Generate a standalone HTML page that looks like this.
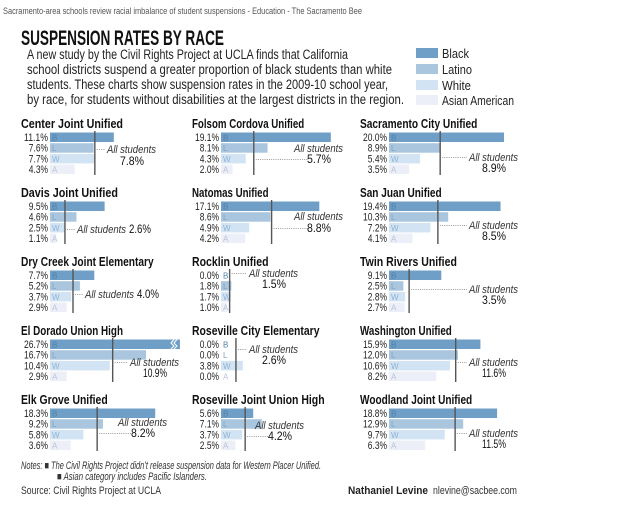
<!DOCTYPE html>
<html><head><meta charset="utf-8"><style>
html,body{margin:0;padding:0;background:#fff;width:640px;height:510px;overflow:hidden}
svg{display:block;font-family:"Liberation Sans Narrow","Liberation Sans",sans-serif}
</style></head><body>
<svg id="chart" width="640" height="510" viewBox="0 0 640 510" xmlns="http://www.w3.org/2000/svg">
<text x="3" y="14" font-size="9" fill="#555" textLength="359" lengthAdjust="spacingAndGlyphs">Sacramento-area schools review racial imbalance of student suspensions - Education - The Sacramento Bee</text>
<text x="21" y="45" font-size="21" font-weight="bold" fill="#111" textLength="203" lengthAdjust="spacingAndGlyphs">SUSPENSION RATES BY RACE</text>
<g font-size="13.5" fill="#222">
<text x="27" y="59" textLength="321" lengthAdjust="spacingAndGlyphs">A new study by the Civil Rights Project at UCLA finds that California</text>
<text x="27" y="74" textLength="365" lengthAdjust="spacingAndGlyphs">school districts suspend a greater proportion of black students than white</text>
<text x="27" y="89" textLength="361" lengthAdjust="spacingAndGlyphs">students. These charts show suspension rates in the 2009-10 school year,</text>
<text x="27" y="104" textLength="377" lengthAdjust="spacingAndGlyphs">by race, for students without disabilities at the largest districts in the region.</text>
</g>
<g font-size="13" fill="#222">
<rect x="416" y="48" width="22" height="10" fill="#6f9fc6"/><text x="442" y="58" textLength="27" lengthAdjust="spacingAndGlyphs">Black</text>
<rect x="416" y="64" width="22" height="10" fill="#a9c6de"/><text x="442" y="74" textLength="30" lengthAdjust="spacingAndGlyphs">Latino</text>
<rect x="416" y="80" width="22" height="10" fill="#d2e4f3"/><text x="442" y="90" textLength="29" lengthAdjust="spacingAndGlyphs">White</text>
<rect x="416" y="95" width="22" height="10" fill="#eceff8"/><text x="442" y="105" textLength="72" lengthAdjust="spacingAndGlyphs">Asian American</text>
</g>
<g id="panels"></g>
<g font-size="11" fill="#333" font-style="italic">
<text x="21" y="469" textLength="300" lengthAdjust="spacingAndGlyphs">Notes: ■ The Civil Rights Project didn’t release suspension data for Western Placer Unified.</text>
<text x="57" y="480" textLength="150" lengthAdjust="spacingAndGlyphs">■ Asian category includes Pacific Islanders.</text>
</g>
<text x="21" y="494" font-size="11" fill="#333" textLength="140" lengthAdjust="spacingAndGlyphs">Source: Civil Rights Project at UCLA</text>
<text x="348" y="494" font-size="11" fill="#222" font-weight="bold" textLength="80" lengthAdjust="spacingAndGlyphs">Nathaniel Levine</text>
<text x="433" y="494" font-size="11" fill="#333" textLength="84" lengthAdjust="spacingAndGlyphs">nlevine@sacbee.com</text>
</svg>
<script>
const districts = ["Center Joint Unified","Davis Joint Unified","Dry Creek Joint Elementary","El Dorado Union High","Elk Grove Unified",
"Folsom Cordova Unified","Natomas Unified","Rocklin Unified","Roseville City Elementary","Roseville Joint Union High",
"Sacramento City Unified","San Juan Unified","Twin Rivers Unified","Washington Unified","Woodland Joint Unified"];
const black =  [11.1,9.5,7.7,26.7,18.3, 19.1,17.1,0.0,0.0,5.6, 20.0,19.4,9.1,15.9,18.8];
const latino = [7.6,4.6,5.2,16.7,9.2, 8.1,8.6,1.8,0.0,7.1, 8.9,10.3,2.5,12.0,12.9];
const white =  [7.7,2.5,3.7,10.4,5.8, 4.3,4.9,1.7,3.8,3.7, 5.4,7.2,2.8,10.6,9.7];
const asian =  [4.3,1.1,2.9,2.9,3.6, 2.0,4.2,1.0,0.0,2.5, 3.5,4.1,2.7,8.2,6.3];
const allStudents = [7.8,2.6,4.0,10.9,8.2, 5.7,8.8,1.5,2.6,4.2, 8.9,8.5,3.5,11.6,11.5];
const raceLetters = ["B","L","W","A"];
// layout (not data)
const colStart=[50,221,389], titleY=[123,192,261,330,399];
const PX=5.75, CAP=22.6;
const fills=["#6f9fc6","#a9c6de","#d2e4f3","#eceff8"], letterFill=["#4d7fa8","#7fa3c2","#8fb3d4","#b9c2d8"];
// label configs: [dx from colStart, labelDy, valueDy, inline, dottedOnValue]
const lab=[[57,30,42,0,0],[27,41,41,1,0],[35,37,37,1,0],[80,36,47,0,0],[68,27,38,0,1],
[73,29,40,0,1],[73,28,40,0,1],[28,16,27,0,0],[28,23,34,0,0],[34,30,41,0,1],
[80,38,49,0,0],[80,37,48,0,0],[80,32,43,0,0],[80,36,47,0,0],[80,38,49,0,0]];
const NS="http://www.w3.org/2000/svg";
const root=document.getElementById("panels");
function mk(tag,attrs,parent,txt){const e=document.createElementNS(NS,tag);for(const k in attrs)e.setAttribute(k,attrs[k]);if(txt!=null)e.textContent=txt;parent.appendChild(e);return e;}
const xs=v=>Math.min(v,CAP)*PX;
for(let i=0;i<districts.length;i++){
  const c=Math.floor(i/5), r=i%5, cs=colStart[c], T=titleY[r];
  const g=mk("g",{},root);
  
  
  const t=mk("text",{x:cs-29,y:T+5,"font-size":12.5,"font-weight":"bold",fill:"#111",textLength:districts[i].length*5.1,lengthAdjust:"spacingAndGlyphs"},g,districts[i]);
  
  
  const vals=[black[i],latino[i],white[i],asian[i]];
  vals.forEach((v,k)=>{
    const top=T+9.5+k*10.7;
    const b=mk("rect",{x:cs,y:top,width:Math.max(xs(v),0.01),height:9.5,fill:fills[k]},g);
    
    
    const s=v.toFixed(1)+"%";
    const vl=mk("text",{x:cs-2,y:top+8.5,"font-size":11,"text-anchor":"end",fill:"#222",textLength:s.length*4.8,lengthAdjust:"spacingAndGlyphs"},g,s);
    
    
    const le=mk("text",{x:cs+2,y:top+8,"font-size":8,fill:letterFill[k]},g,raceLetters[k]);
    
    
    if(v>CAP){
      const bk=mk("path",{d:`M${cs+xs(v)-9},${top+9.5} l3,-3 l-3,-3 l3,-3.5 M${cs+xs(v)-6},${top+9.5} l3,-3 l-3,-3 l3,-3.5`,stroke:"#fff","stroke-width":1,fill:"none"},g);
      
      
    }
  });
  const lx=cs+xs(allStudents[i]);
  const ln=mk("line",{x1:lx,x2:lx,y1:T+8,y2:T+52,stroke:"#555","stroke-width":1.4},g);
  
  
  const [dx,ldy,vdy,inline,onVal]=lab[i];
  const tx=cs+dx, valStr=allStudents[i].toFixed(1)+"%";
  const dy=onVal?vdy:ldy;
  const dl=mk("line",{x1:lx+2,x2:(onVal&&!inline)?tx+14:tx-2,y1:T+dy-3.5,y2:T+dy-3.5,stroke:"#777","stroke-width":0.8,"stroke-dasharray":"1,1.2"},g);
  
  
  const al=mk("text",{x:tx,y:T+ldy,"font-size":11,"font-style":"italic",fill:"#333",textLength:49,lengthAdjust:"spacingAndGlyphs"},g,"All students");
  
  
  const av=inline?mk("text",{x:tx+52,y:T+vdy,"font-size":12,fill:"#111",textLength:22,lengthAdjust:"spacingAndGlyphs"},g,valStr)
                 :mk("text",{x:tx+25,y:T+vdy,"font-size":12,"text-anchor":"middle",fill:"#111",textLength:24,lengthAdjust:"spacingAndGlyphs"},g,valStr);
  
  
}
</script>
</body></html>
